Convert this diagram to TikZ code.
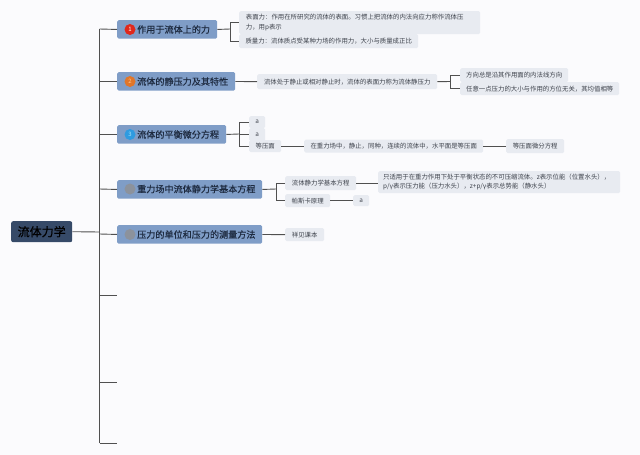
\documentclass[tikz,border=0pt]{standalone}
\usepackage{fontspec}
\setmainfont{Noto Sans CJK SC}
\definecolor{bgc}{HTML}{FBFBFD}
\definecolor{rootc}{HTML}{364A68}
\definecolor{topicc}{HTML}{7F9DC7}
\definecolor{leafc}{HTML}{E8EBF1}
\definecolor{linec}{HTML}{505050}
\definecolor{leaftext}{HTML}{3E434C}
\definecolor{topictext}{HTML}{1E2B40}
\definecolor{badgered}{HTML}{E0281C}
\definecolor{badgeorange}{HTML}{E0762A}
\definecolor{badgeblue}{HTML}{2F9BE0}
\definecolor{badgegray}{HTML}{8C929C}
\tikzset{
  x=1pt,y=-1pt,
  conn/.style={draw=linec,line width=0.9pt},
  rootbox/.style={fill=rootc,rounded corners=2pt,anchor=north west,inner sep=0pt,
    minimum width=61pt,minimum height=21pt,font=\fontsize{12}{14}\selectfont\addfontfeature{FakeBold=0.5},text=black},
  topicbox/.style={fill=topicc,rounded corners=1.5pt,anchor=north west,inner xsep=0pt,inner ysep=0pt,
    minimum width=#1pt,minimum height=18.5pt},
  leaf/.style 2 args={fill=leafc,rounded corners=1.5pt,anchor=north west,inner xsep=0pt,inner ysep=0pt,
    minimum width=#1pt,minimum height=#2pt,align=left,
    font=\fontsize{6.4}{9.4}\selectfont,text=leaftext},
  badge/.style={circle,fill=#1,minimum size=11pt,inner sep=0pt,text=white,font=\fontsize{6}{7}\selectfont},
  toptext/.style={anchor=west,inner sep=0pt,font=\fontsize{9.1}{11}\selectfont\addfontfeature{FakeBold=0.3},text=topictext},
}
\begin{document}
\begin{tikzpicture}
\useasboundingbox[fill=bgc] (0,0) rectangle (640,455);
\coordinate (tr0) at (99.5,29);
\coordinate (trR) at (99.5,232);
\coordinate (tr4) at (99.5,189);
\coordinate (tr5) at (99.5,234);
\coordinate (e1) at (117,295.5);
\coordinate (e2) at (117,382);
\coordinate (e3) at (117,443);
\coordinate (j1) at (230,29);
\coordinate (j2) at (450,81.5);
\coordinate (j3) at (239,134);
\coordinate (j4) at (276,189);
\node[rootbox] (root) at (11,221) {流体力学};
\node[topicbox=100] (t1) at (117,20) {};
\node[topicbox=118] (t2) at (117,72) {};
\node[topicbox=109] (t3) at (117,125) {};
\node[topicbox=145] (t4) at (117,180) {};
\node[topicbox=145] (t5) at (117,225) {};
\node[badge=badgered] (b1) at (130,29.5) {1};
\node[badge=badgeorange] (b2) at (130,81.5) {\textcolor{orange!45!white}{2}};
\node[badge=badgeblue] (b3) at (130,134.5) {\textcolor{cyan!35!white}{3}};
\node[badge=badgegray] (b4) at (130,189) {};
\node[badge=badgegray] (b5) at (130,234.5) {};
\node[toptext] (x1) at (137,29.5) {作用于流体上的力};
\node[toptext] (x2) at (137,81.5) {流体的静压力及其特性};
\node[toptext] (x3) at (137,134.5) {流体的平衡微分方程};
\node[toptext] (x4) at (137,189) {重力场中流体静力学基本方程};
\node[toptext] (x5) at (137,234.5) {压力的单位和压力的测量方法};
\node[leaf={241}{23}] (a1) at (239,11) {表面力：作用在所研究的流体的表面。习惯上把流体的内法向应力称作流体压\hspace*{10pt}\\力，用p表示};
\node[leaf={179}{14}] (a2) at (239,34) {质量力：流体质点受某种力场的作用力，大小与质量成正比};
\node[leaf={180}{15}] (b21) at (257,74) {流体处于静止或相对静止时，流体的表面力称为流体静压力};
\node[leaf={108}{14}] (c1) at (460,68) {方向总是沿其作用面的内法线方向};
\node[leaf={159}{13}] (c2) at (460,82) {任意一点压力的大小与作用的方位无关，其均值相等};
\node[leaf={16}{12}] (d1) at (249,116) {a};
\node[leaf={16}{13}] (d2) at (249,128) {a};
\node[leaf={32}{12}] (d3) at (249,140) {等压面};
\node[leaf={179}{13}] (d4) at (304,139.5) {在重力场中，静止，同种，连续的流体中，水平面是等压面};
\node[leaf={58}{14}] (d5) at (506,139) {等压面微分方程};
\node[leaf={71}{14}] (f1) at (285,176) {流体静力学基本方程};
\node[leaf={45}{13}] (f2) at (285,194) {帕斯卡原理};
\node[leaf={242}{22}] (f3) at (378,171) {只适用于在重力作用下处于平衡状态的不可压缩流体。z表示位能（位置水头），\hspace*{5pt}\\p/γ表示压力能（压力水头），z+p/γ表示总势能（静水头）};
\node[leaf={16}{11}] (f4) at (353,195) {a};
\node[leaf={39}{13}] (g1) at (285,228) {祥见课本};
\draw[conn] (root.east) -- (trR);
\draw[conn] (tr0) -- (t1.west);
\draw[conn] (tr0) -- (e3 -| tr0);
\draw[conn] (t2.west -| tr0) -- (t2.west);
\draw[conn] (t3.west -| tr0) -- (t3.west);
\draw[conn] (tr4) -- (t4.west);
\draw[conn] (tr5) -- (t5.west);
\draw[conn] (e1 -| tr0) -- (e1);
\draw[conn] (e2 -| tr0) -- (e2);
\draw[conn] (e3 -| tr0) -- (e3);
\draw[conn] (t1.east) -- (j1);
\draw[conn] (j1) |- (a1.west);
\draw[conn] (j1) |- (a2.west);
\draw[conn] (t2.east) -- (b21.west);
\draw[conn] (b21.east) -- (j2);
\draw[conn] (j2) |- (c1.west);
\draw[conn] (j2) |- (c2.west);
\draw[conn] (t3.east) -- (j3);
\draw[conn] (j3) |- (d1.west);
\draw[conn] (j3) |- (d2.west);
\draw[conn] (j3) |- (d3.west);
\draw[conn] (d3.east) -- (d4.west);
\draw[conn] (d4.east) -- (d5.west);
\draw[conn] (t4.east) -- (j4);
\draw[conn] (j4) |- (f1.west);
\draw[conn] (j4) |- (f2.west);
\draw[conn] (f1.east) -- (f3.west |- f1.east);
\draw[conn] (f2.east) -- (f4.west);
\draw[conn] (t5.east) -- (g1.west);
\end{tikzpicture}
\end{document}
